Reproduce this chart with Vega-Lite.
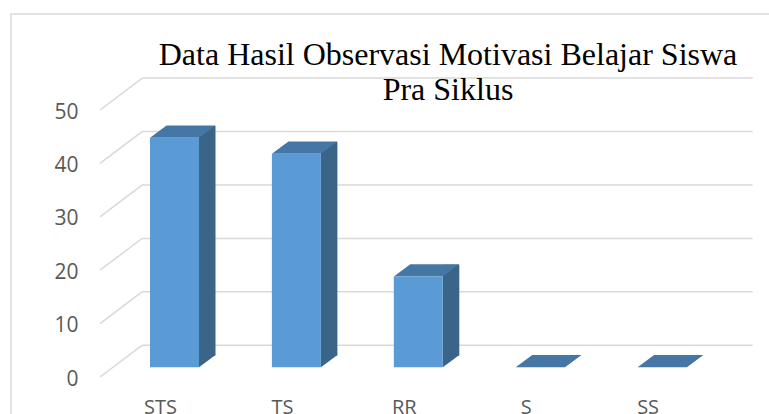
{
"$schema":"https://vega.github.io/schema/vega-lite/v6.json",
"width":770,"height":420,
"autosize":"none",
"padding":{"left":11,"top":14,"right":0,"bottom":0},
"background":"white",
"view":{"stroke":"#d9d9d9","strokeWidth":1.5,"fill":"white"},
"title":{"text":["Data Hasil Observasi Motivasi Belajar Siswa","Pra Siklus"],"font":"Liberation Serif","fontSize":32,"fontWeight":"normal","lineHeight":35,"color":"#000000","anchor":"middle","dx":52,"baseline":"top","offset":-93},
"datasets":{
"batang":[{"kategori":"STS","nilai":43},{"kategori":"TS","nilai":40},{"kategori":"RR","nilai":17},{"kategori":"S","nilai":0},{"kategori":"SS","nilai":0}],
"skala":[{"nilai":0},{"nilai":10},{"nilai":20},{"nilai":30},{"nilai":40},{"nilai":50}]
},
"resolve":{"scale":{"x":"independent","y":"independent"},"axis":{"x":"independent","y":"independent"}},
"layer":[
{"data":{"name":"skala"},
 "mark":{"type":"point","shape":"M0,0L42,-31.7","filled":false,"stroke":"#d9d9d9","strokeWidth":1.5,"size":4,"opacity":1},
 "encoding":{
  "x":{"datum":0,"type":"quantitative","scale":{"domain":[0,1],"range":[89,131]},"axis":null},
  "y":{"field":"nilai","type":"quantitative","scale":{"domain":[0,50],"range":[363,96]},"axis":{"values":[0,10,20,30,40,50],"orient":"left","offset":-67,"domain":false,"ticks":false,"grid":false,"title":null,"labelPadding":0,"labelOffset":2,"labelFont":"Open Sans","labelFontSize":21,"labelColor":"#595959"}}
 }},
{"data":{"name":"skala"},
 "mark":{"type":"rule","stroke":"#d9d9d9","strokeWidth":1.5},
 "encoding":{
  "x":{"datum":0,"type":"quantitative","scale":{"domain":[0,1],"range":[131,741.7]},"axis":null},
  "x2":{"datum":1},
  "y":{"field":"nilai","type":"quantitative","scale":{"domain":[0,50],"range":[331.3,64]},"axis":null}
 }},
{"data":{"name":"batang"},
 "mark":{"type":"bar","fill":"#3a6488"},
 "encoding":{
  "x":{"field":"kategori","type":"nominal","sort":null,"scale":{"domain":["STS","TS","RR","S","SS"],"range":[135.3,744.8],"paddingInner":0.8646,"paddingOuter":0.4323},"axis":null},
  "y":{"field":"nilai","type":"quantitative","scale":{"domain":[0,50],"range":[341.5,74.5]},"axis":null}
 }},
{"data":{"name":"batang"},
 "mark":{"type":"point","shape":"M24.5,0L41,-12.3L24.5,-12.3Z","filled":true,"fill":"#3a6488","size":4,"opacity":1,"strokeWidth":0},
 "encoding":{
  "x":{"field":"kategori","type":"nominal","sort":null,"scale":{"domain":["STS","TS","RR","S","SS"],"range":[102.55,712.05],"paddingInner":0.598,"paddingOuter":0.299},"axis":null},
  "y":{"datum":0,"type":"quantitative","scale":{"domain":[0,50],"range":[353.3,86.3]},"axis":null}
 }},
{"data":{"name":"batang"},
 "mark":{"type":"point","shape":"M-24.5,0L24.5,0L41,-12.3L-8,-12.3Z","filled":true,"fill":"#4577a5","size":4,"opacity":1,"strokeWidth":0},
 "encoding":{
  "x":{"field":"kategori","type":"nominal","sort":null,"scale":{"domain":["STS","TS","RR","S","SS"],"range":[102.55,712.05],"paddingInner":0.598,"paddingOuter":0.299},"axis":null},
  "y":{"field":"nilai","type":"quantitative","scale":{"domain":[0,50],"range":[353.3,86.3]},"axis":null}
 }},
{"data":{"name":"batang"},
 "mark":{"type":"bar","fill":"#5b9bd5"},
 "encoding":{
  "x":{"field":"kategori","type":"nominal","sort":null,"scale":{"domain":["STS","TS","RR","S","SS"],"range":[102.55,712.05],"paddingInner":0.598,"paddingOuter":0.299},"axis":{"orient":"bottom","offset":-37,"domain":false,"ticks":false,"grid":false,"title":null,"labelAngle":0,"labelOffset":-14,"labelPadding":0,"labelFont":"Open Sans","labelFontSize":20,"labelColor":"#595959"}},
  "y":{"field":"nilai","type":"quantitative","scale":{"domain":[0,50],"range":[353.3,86.3]},"axis":null}
 }}
]
}
